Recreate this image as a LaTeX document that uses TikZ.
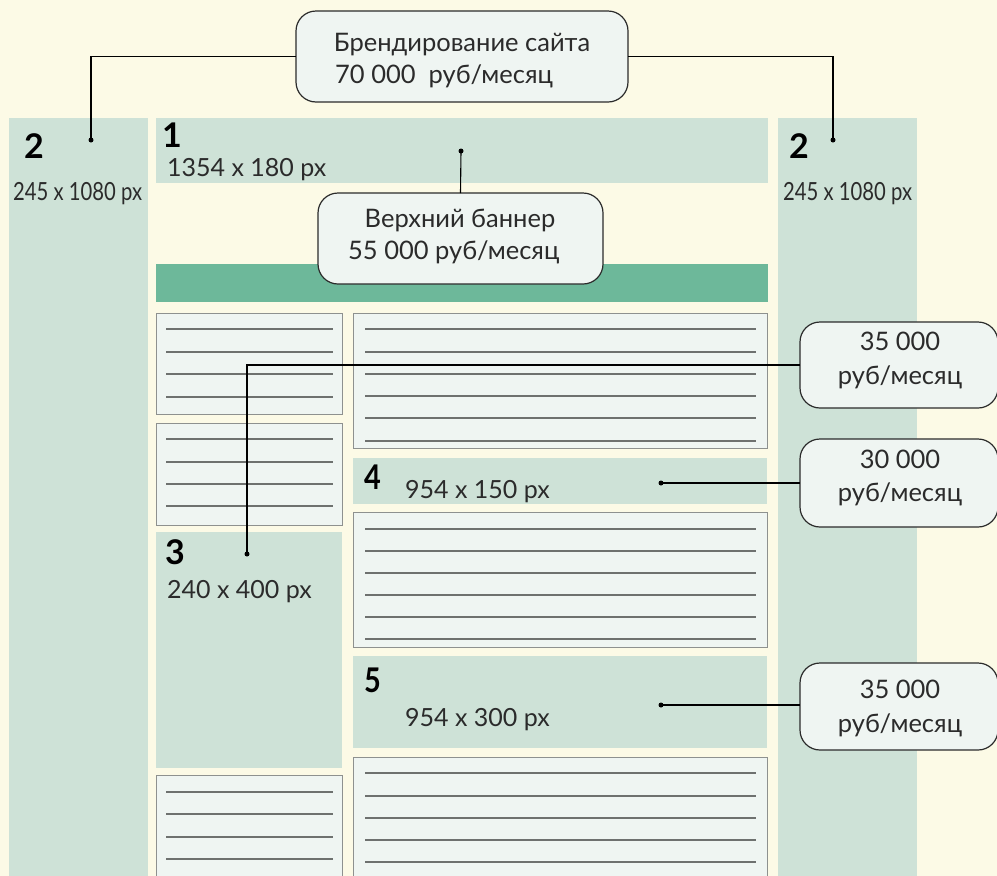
\documentclass[tikz,border=0pt]{standalone}
\usepackage{fontspec}
\setmainfont{Lato}
\usepackage{graphicx}
\definecolor{bg}{HTML}{FCFAE6}
\definecolor{pale}{HTML}{CEE2D7}
\definecolor{bar}{HTML}{6DB89A}
\definecolor{card}{HTML}{EFF5F2}
\definecolor{ink}{HTML}{2B2B2B}
\definecolor{rulec}{HTML}{6E716F}
\definecolor{edge}{HTML}{8E918F}
\newcommand\rectnode[6]{\node[#2, minimum width={(#5)-(#3)}, minimum height={(#6)-(#4)}] (#1) at ({((#3)+(#5))/2},{((#4)+(#6))/2}) {};}
\newcommand\rulesin[5]{\foreach \yy in {#4} {\draw[rule] (#2,\yy) -- (#3,\yy);}}
\begin{document}
\begin{tikzpicture}[x=1pt,y=-1pt,
  zone/.style={fill=pale, draw=none, inner sep=0pt, outer sep=0pt, rectangle},
  barzone/.style={fill=bar, draw=none, inner sep=0pt, outer sep=0pt, rectangle},
  content/.style={fill=card, draw=edge, line width=1pt, inner sep=0pt, outer sep=0pt, rectangle},
  callout/.style={fill=card, draw=ink, line width=1.2pt, rounded corners=20pt, inner sep=0pt, outer sep=0pt, rectangle},
  rule/.style={draw=rulec, line width=2pt},
  txt/.style={font=\fontsize{25}{29}\selectfont, text=ink, inner sep=0pt, anchor=base west},
  ctxt/.style={font=\fontsize{25.5}{30}\selectfont, text=ink, inner sep=0pt, anchor=base},
  num/.style={font=\fontsize{34}{34}\selectfont\bfseries, text=black, inner sep=0pt, anchor=base west},
  wire/.style={draw=black, line width=1.1pt},
  dot/.style={circle, fill=black, inner sep=0pt, minimum size=5pt}]
\clip (0,0) rectangle (997,876);
\fill[bg] (0,0) rectangle (997,876);

% sidebars and banners
\rectnode{side2l}{zone}{9}{118}{148}{900}
\rectnode{side2r}{zone}{778}{118}{917}{900}
\rectnode{ban1}{zone}{156}{118}{768}{183}
\rectnode{greenbar}{barzone}{156}{264}{768}{302}
\rectnode{ban3}{zone}{156}{532}{342}{768}
\rectnode{ban4}{zone}{353}{458}{767}{504}
\rectnode{ban5}{zone}{353}{656}{767}{748}

% content boxes
\rectnode{boxA}{content}{156}{313}{342}{414}
\rectnode{boxB}{content}{156}{423}{342}{525}
\rectnode{boxF}{content}{156}{775}{342}{900}
\rectnode{boxC}{content}{353}{313}{767}{448}
\rectnode{boxD}{content}{353}{512}{767}{647}
\rectnode{boxE}{content}{353}{757}{767}{900}
\rulesin{boxA}{166}{333}{329,352,374,397}{}
\rulesin{boxB}{166}{333}{439,462,484,506}{}
\rulesin{boxF}{166}{333}{792,814,837,859,881}{}
\rulesin{boxC}{365}{756}{329,352,374,396,418,441}{}
\rulesin{boxD}{365}{756}{529,551,573,595,617,639}{}
\rulesin{boxE}{365}{756}{773,796,818,840,862,884}{}

% labels
\node[num] (n2l) at (24,158) {2};
\node[num] (n2r) at (789,158) {2};
\node[txt] (s2l) at (13,200) {\scalebox{0.81}[1]{245 x 1080 px}};
\node[txt] (s2r) at (783,200) {\scalebox{0.81}[1]{245 x 1080 px}};
\node[num] (n1) at (162,147) {1};
\node[txt] (s1) at (167,176) {1354 x 180 px};
\node[num] (n3) at (165,564) {3};
\node[txt] (s3) at (167,598) {240 x 400 px};
\node[num] (n4) at (364,489) {\scalebox{0.85}[1]{4}};
\node[txt] (s4) at (405,498) {954 x 150 px};
\node[num] (n5) at (364,692) {\scalebox{0.85}[1]{5}};
\node[txt] (s5) at (405,726) {954 x 300 px};

% dots
\node[dot] (d2l) at (91,140) {};
\node[dot] (d2r) at (833,140) {};
\node[dot] (d1) at (461,151) {};
\node[dot] (d3) at (247,554) {};
\node[dot] (d4) at (661,483) {};
\node[dot] (d5) at (661,705) {};

% callouts
\rectnode{brand}{callout}{296}{11}{628}{102}
\node[ctxt] (brandt1) at (462,51) {Брендирование сайта};
\node[ctxt, anchor=base west] (brandt2) at (335,83) {70 000\ \ руб/месяц};
\rectnode{top}{callout}{318}{193}{603}{284}
\node[ctxt] (topt1) at (460,227) {Верхний баннер};
\node[ctxt, anchor=base west] (topt2) at (348,259) {55 000 руб/месяц};
\rectnode{c1}{callout}{800}{322}{998}{408}
\node[ctxt] (c1a) at (900,350) {35 000};
\node[ctxt] (c1b) at (900,384) {руб/месяц};
\rectnode{c2}{callout}{800}{439}{998}{527}
\node[ctxt] (c2a) at (900,468) {30 000};
\node[ctxt] (c2b) at (900,501) {руб/месяц};
\rectnode{c3}{callout}{800}{663}{998}{750}
\node[ctxt] (c3a) at (900,698) {35 000};
\node[ctxt] (c3b) at (900,732) {руб/месяц};

% connectors
\draw[wire] (brand.west) -| (d2l.center);
\draw[wire] (brand.east) -| (d2r.center);
\draw[wire] (d1.center) -- (top.north);
\draw[wire] (c1.west) -| (d3.center);
\draw[wire] (d4.center) -- (c2.west);
\draw[wire] (d5.center) -- (d5.center -| c3.west);
\end{tikzpicture}
\end{document}
